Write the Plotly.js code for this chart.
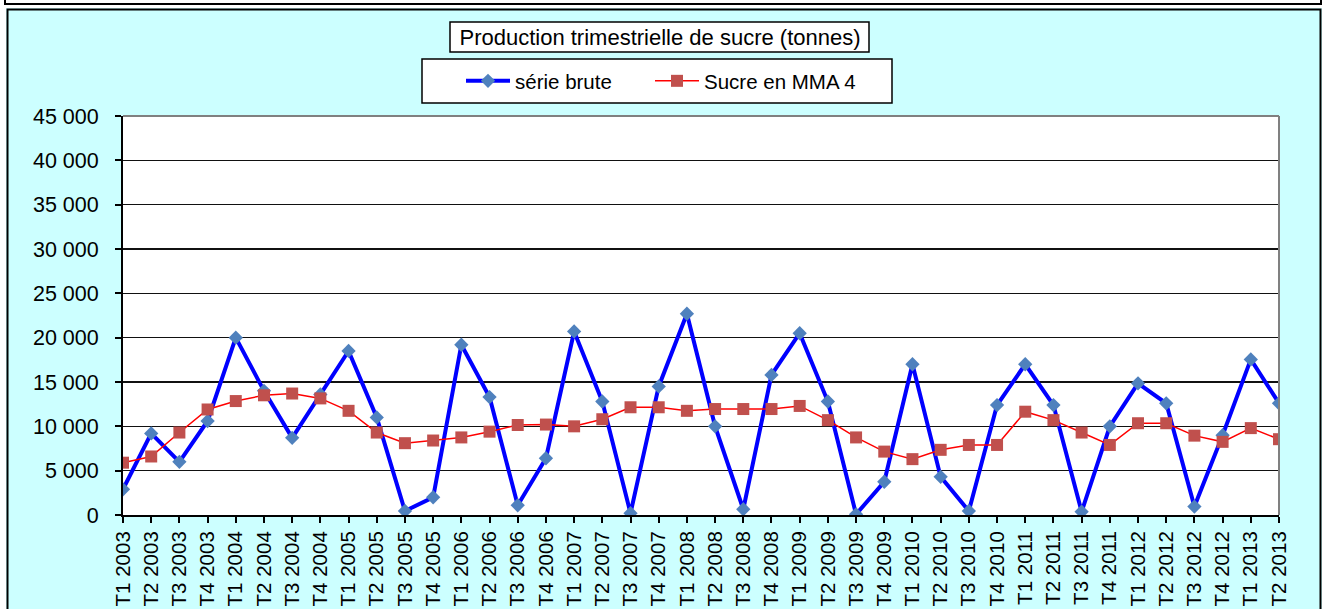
<!DOCTYPE html>
<html><head><meta charset="utf-8">
<script src="https://cdn.plot.ly/plotly-3.0.1.min.js"></script>
<style>html,body{margin:0;padding:0;background:#fff}#chart{width:1323px;height:609px}</style>
</head><body><div id="chart"></div>
<script>
const categories = [
  "T1 2003","T2 2003","T3 2003","T4 2003",
  "T1 2004","T2 2004","T3 2004","T4 2004",
  "T1 2005","T2 2005","T3 2005","T4 2005",
  "T1 2006","T2 2006","T3 2006","T4 2006",
  "T1 2007","T2 2007","T3 2007","T4 2007",
  "T1 2008","T2 2008","T3 2008","T4 2008",
  "T1 2009","T2 2009","T3 2009","T4 2009",
  "T1 2010","T2 2010","T3 2010","T4 2010",
  "T1 2011","T2 2011","T3 2011","T4 2011",
  "T1 2012","T2 2012","T3 2012","T4 2012",
  "T1 2013","T2 2013"
];
const serieBrute = [
  2900, 9200, 6000, 10600,
  20000, 14000, 8700, 13600,
  18500, 11000, 450, 2000,
  19200, 13300, 1100, 6400,
  20700, 12800, 200, 14500,
  22700, 10000, 650, 15800,
  20500, 12800, 80, 3750,
  17000, 4300, 450, 12400,
  17000, 12400, 370, 10000,
  14850, 12600, 950, 9000,
  17550, 12600
];
const sucreMMA4 = [
  5900, 6600, 9300, 11900,
  12850, 13500, 13700, 13150,
  11750, 9300, 8100, 8400,
  8750, 9400, 10150, 10200,
  10000, 10800, 12150, 12150,
  11750, 11950, 11950, 11950,
  12300, 10700, 8750, 7150,
  6300, 7350, 7900, 7900,
  11650, 10700, 9300, 7900,
  10350, 10350, 8950, 8250,
  9800, 8550
];
const yTicks = [0,5000,10000,15000,20000,25000,30000,35000,40000,45000];
const titleText = "Production trimestrielle de sucre (tonnes)";
const seriesNames = ["série brute","Sucre en MMA 4"];

// plot-area geometry (pixels) for placing decoration in paper coordinates
const L = 123, R = 1279, T = 116, B = 515;
const xp = px => (px - L) / (R - L);
const yp = py => (B - py) / (B - T);

const FONT = "Liberation Sans, Arial, sans-serif";

const traces = [
  {
    x: categories, y: serieBrute, name: seriesNames[0], type: "scatter", mode: "lines+markers",
    line: {color: "#0000FF", width: 4},
    marker: {symbol: "diamond", size: 11, color: "#4F81BD"},
    legendwidth: 130
  },
  {
    x: categories, y: sucreMMA4, name: seriesNames[1], type: "scatter", mode: "lines+markers",
    line: {color: "#FF0000", width: 1.5},
    marker: {symbol: "square", size: 12, color: "#C0504D"},
    legendwidth: 200
  }
];

const layout = {
  width: 1323, height: 609,
  margin: {l: L, r: 1323 - R, t: T, b: 609 - B, pad: 0},
  paper_bgcolor: "#CCFFFF",
  plot_bgcolor: "#FFFFFF",
  separators: ", ",
  font: {family: FONT, size: 20, color: "#000"},
  title: {
    text: titleText, font: {family: FONT, size: 22, color: "#000"},
    xref: "paper", x: xp(660), xanchor: "center",
    yref: "container", y: 1 - 37/609, yanchor: "middle"
  },
  showlegend: true,
  legend: {
    orientation: "h", x: xp(461), xanchor: "left", y: yp(61), yanchor: "top",
    bgcolor: "rgba(0,0,0,0)", borderwidth: 0,
    itemwidth: 44,
    font: {family: FONT, size: 20.5, color: "#000"}
  },
  xaxis: {
    type: "category", range: [0, categories.length - 1],
    showgrid: false, zeroline: false,
    showline: true, linecolor: "#000", linewidth: 2,
    ticks: "outside", ticklen: 6, tickcolor: "#000", tickwidth: 2,
    tickangle: -90, tickfont: {family: FONT, size: 20.5, color: "#000"},
    fixedrange: true
  },
  yaxis: {
    range: [0, 45000], tickvals: yTicks, tickformat: ",d",
    showgrid: true, gridcolor: "#111", gridwidth: 1.6,
    zeroline: false,
    showline: true, linecolor: "#000", linewidth: 2,
    ticks: "outside", ticklen: 6, tickcolor: "#000", tickwidth: 2,
    ticklabelstandoff: 12,
    tickfont: {family: FONT, size: 21.5, color: "#000"},
    fixedrange: true
  },
  shapes: [
    {type: "rect", xref: "paper", yref: "paper", layer: "below",
     x0: xp(-20), x1: xp(6), y0: yp(640), y1: yp(-20), fillcolor: "#FFFFFF", line: {width: 0}},
    {type: "rect", xref: "paper", yref: "paper", layer: "below",
     x0: xp(-20), x1: xp(1340), y0: yp(8), y1: yp(-20), fillcolor: "#FFFFFF", line: {width: 0}},
    {type: "rect", xref: "paper", yref: "paper", layer: "below",
     x0: xp(1322), x1: xp(1340), y0: yp(640), y1: yp(-20), fillcolor: "#FFFFFF", line: {width: 0}},
    {type: "rect", xref: "paper", yref: "paper", layer: "below",
     x0: xp(5), x1: xp(1321), y0: yp(4), y1: yp(-20), fillcolor: "#FFFFFF", line: {color: "#000", width: 2}},
    {type: "rect", xref: "paper", yref: "paper", layer: "below",
     x0: xp(7.5), x1: xp(1320.5), y0: yp(640), y1: yp(9.5), fillcolor: "rgba(0,0,0,0)", line: {color: "#000", width: 2}},
    {type: "line", xref: "paper", yref: "paper", layer: "above",
     x0: 0, x1: 1, y0: 1, y1: 1, line: {color: "#808080", width: 2}},
    {type: "line", xref: "paper", yref: "paper", layer: "above",
     x0: 1, x1: 1, y0: 0, y1: 1, line: {color: "#808080", width: 2}},
    {type: "rect", xref: "paper", yref: "paper", layer: "above",
     x0: xp(450), x1: xp(869), y0: yp(52), y1: yp(22), fillcolor: "#FFFFFF", line: {color: "#000", width: 1.5}},
    {type: "rect", xref: "paper", yref: "paper", layer: "above",
     x0: xp(422), x1: xp(892), y0: yp(103), y1: yp(59), fillcolor: "#FFFFFF", line: {color: "#000", width: 1.5}}
  ]
};

Plotly.newPlot("chart", traces, layout, {displayModeBar: false, staticPlot: true});
</script>
</body></html>
